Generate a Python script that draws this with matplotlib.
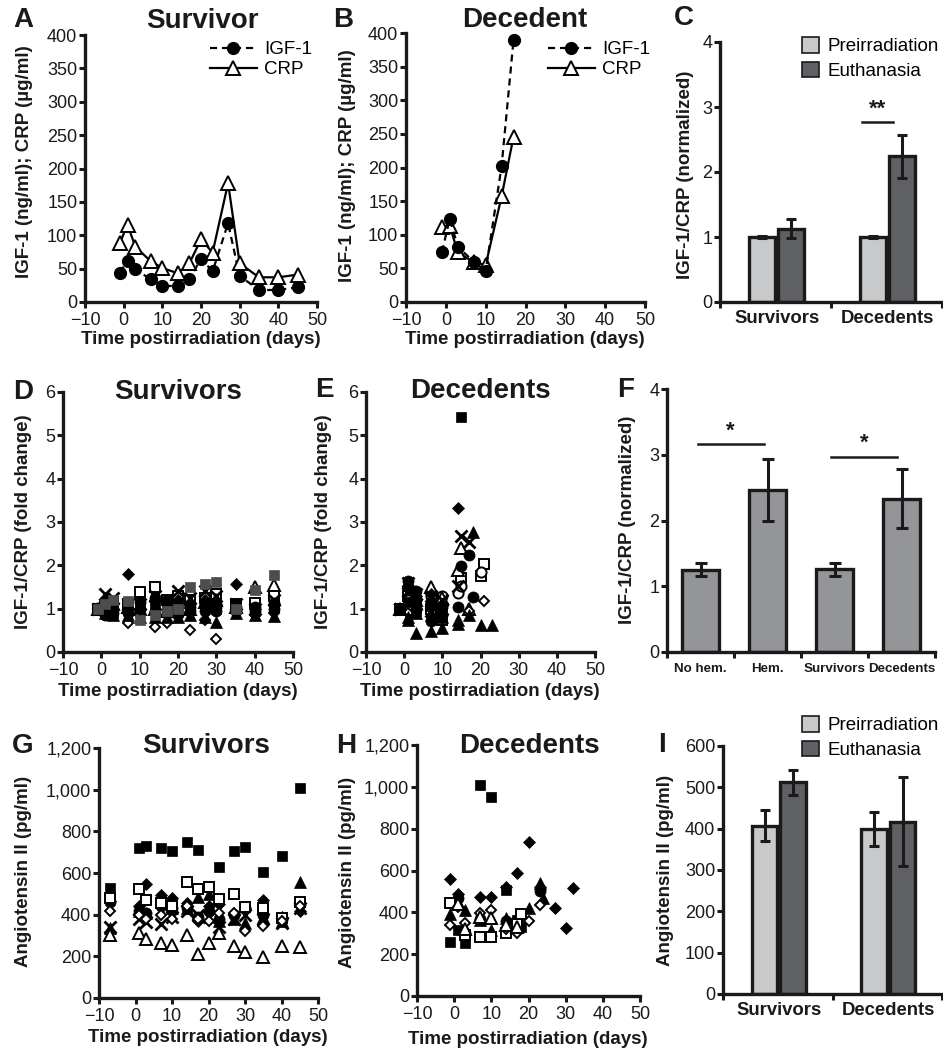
import matplotlib
matplotlib.use("Agg")
import matplotlib.pyplot as plt
from matplotlib.ticker import FuncFormatter
from matplotlib.patches import Patch
import numpy as np

plt.rcParams['font.family'] = ['Liberation Sans', 'DejaVu Sans']
plt.rcParams['axes.unicode_minus'] = True

W, H = 943, 1054
fig = plt.figure(figsize=(W / 100, H / 100), dpi=100)
nan = np.nan

# ---------------- data ----------------
# Panel A: survivor
a_days = [-1, 1, 3, 7, 10, 14, 17, 20, 23, 27, 30, 35, 40, 45]
a_igf1 = [44, 62, 49, 34, 24, 24, 34, 65, 46, 118, 39, 18, 18, 22]
a_crp = [88, 116, 83, 61, 51, 43, 58, 94, 74, 178, 58, 37, 37, 41]
# Panel B: decedent
b_days = [-1, 1, 3, 7, 10, 14, 17]
b_igf1 = [74, 124, 82, 60, 46, 202, 390]
b_crp = [112, 113, 74, 59, 55, 157, 246]
# Panel C
c_groups = ['Survivors', 'Decedents']
c_pre = [1.0, 1.0]
c_pre_err = [0.01, 0.01]
c_euth = [1.13, 2.24]
c_euth_err = [0.14, 0.33]
# Panel D: survivors fold change
d_days = [-1, 1, 3, 7, 10, 14, 17, 20, 23, 27, 30, 35, 40, 45]
d_sq = [1.0, 0.95, 0.9, 1.0, 1.05, 1.1, 1.0, 0.95, 1.0, 1.05, 1.0, 1.1, 0.95, 1.05]
d_sqg = [1.0, 1.1, 1.2, 1.18, 0.75, 0.85, 0.95, 1.0, 1.5, 1.57, 1.62, 1.0, 1.43, 1.78]
d_ci = [1.0, 0.85, 1.0, 1.0, 1.15, 1.25, 1.1, 0.9, 1.05, 0.95, 0.95, 1.05, 0.95, 1.0]
d_ci2 = [1.0, 1.1, 0.9, 0.9, 1.0, 0.95, 1.2, 1.1, 0.95, 1.1, 1.05, 0.95, 1.05, 1.12]
d_di = [1.0, 1.2, 1.1, 1.8, 1.0, 1.2, 1.1, 1.2, 1.1, 1.2, 1.1, 1.58, 1.0, 1.1]
d_tr = [1.0, 0.9, 0.85, 0.85, 0.8, 0.8, 0.8, 0.8, 0.85, 0.8, 0.7, 0.9, 0.85, 0.82]
d_x = [1.0, 1.35, 1.25, 1.1, 1.1, 1.3, 1.1, 1.4, 1.25, 1.4, 1.3, 1.1, 1.0, 1.2]
d_sqo = [1.0, 1.05, 1.15, 1.1, 1.38, 1.5, 1.2, 1.3, 1.2, 1.25, 1.35, 1.1, 1.13, 1.3]
d_tro = [1.0, 1.0, 1.1, 1.05, 1.0, 1.0, 0.95, 1.15, 1.0, 1.15, 1.2, 1.05, 1.5, 1.55]
d_dio = [1.0, 0.9, 0.95, 0.68, 0.85, 0.57, 0.68, 0.8, 0.5, 0.75, 0.3, 0.9, 0.85, 0.9]
# Panel E: decedents fold change (each animal has its own days)
e_sq_days = [-1, 1, 3, 7, 10, 15]
e_sq = [1.0, 1.15, 0.95, 1.1, 0.95, 5.42]
e_di_days = [-1, 1, 3, 7, 10, 14]
e_di = [1.0, 1.45, 1.3, 1.35, 1.1, 3.32]
e_ci_days = [-1, 1, 3, 7, 10, 15, 18]
e_ci = [1.0, 1.65, 1.4, 0.72, 1.05, 1.98, 1.28]
e_ci2_days = [-1, 1, 3, 7, 10, 14, 17]
e_ci2 = [1.0, 1.5, 1.2, 1.1, 0.85, 1.05, 2.25]
e_tr_days = [-1, 1, 3, 7, 10, 14, 18]
e_tr = [1.0, 0.75, 0.45, 0.48, 0.55, 0.65, 2.76]
e_tr2_days = [-1, 1, 3, 7, 10, 14, 17, 20, 23]
e_tr2 = [1.0, 0.8, 0.9, 0.85, 0.8, 0.75, 0.85, 0.62, 0.62]
e_x_days = [-1, 1, 3, 7, 10, 14, 15]
e_x = [1.0, 1.6, 1.35, 0.95, 1.0, 1.52, 2.67]
e_x2_days = [-1, 1, 3, 7, 10, 17]
e_x2 = [1.0, 1.4, 1.1, 1.3, 1.2, 2.55]
e_tro_days = [-1, 1, 3, 7, 10, 14, 15, 17]
e_tro = [1.0, 1.1, 1.2, 1.5, 1.25, 1.9, 2.4, 1.0]
e_sqo_days = [-1, 1, 3, 7, 10, 15, 20, 21]
e_sqo = [1.0, 1.3, 1.1, 1.0, 0.75, 1.7, 1.75, 2.04]
e_cio_days = [-1, 1, 3, 7, 10, 14, 15, 20]
e_cio = [1.0, 1.2, 1.0, 1.3, 1.3, 1.36, 1.52, 1.85]
e_dio_days = [-1, 1, 3, 7, 10, 17, 21]
e_dio = [1.0, 0.9, 1.1, 1.0, 0.9, 0.95, 1.17]
# Panel F
f_labels = ['No hem.', 'Hem.', 'Survivors', 'Decedents']
f_vals = [1.25, 2.47, 1.26, 2.33]
f_err = [0.10, 0.47, 0.10, 0.45]
# Panel G: survivors angiotensin II
g_days = [-7, 1, 3, 7, 10, 14, 17, 20, 23, 27, 30, 35, 40, 45]
g_sq = [530, 718, 730, 718, 706, 749, 710, nan, 627, 704, 723, 606, 682, 1010]
g_di = [465, 440, 547, 495, 480, 455, 370, 440, 450, 400, 430, 470, 390, 420]
g_tr = [335, 420, 410, 470, 430, 430, 485, 500, 370, 380, 360, 390, 370, 555]
g_ci = [460, 420, 410, 440, 430, 430, 390, 420, 380, 400, 430, 400, 380, 450]
g_x = [340, 380, 365, 355, 390, 420, 400, 390, 340, 380, 400, 380, 360, 430]
g_sqo = [478, 523, 470, 455, 440, 558, 522, 534, 474, 498, 435, 432, 385, 460]
g_dio = [420, 400, 380, 400, 380, 440, 380, 370, 410, 410, 320, 345, 370, 440]
g_tro = [302, 313, 282, 265, 254, 302, 210, 262, 310, 250, 222, 195, 250, 246]
# Panel H: decedents angiotensin II
h_sq_days = [-1, 1, 3, 7, 10, 14, 17, 18]
h_sq = [260, 316, 255, 1009, 953, 507, 363, 330]
h_di_days = [-1, 1, 7, 10, 14, 17, 20, 23, 27, 30, 32]
h_di = [559, 488, 475, 472, 522, 586, 735, 522, 419, 327, 518]
h_tr_days = [-1, 1, 3, 7, 10, 14, 17, 20, 23, 24]
h_tr = [392, 451, 410, 363, 315, 373, 350, 420, 540, 468]
h_ci_days = [1, 3, 7, 14, 17, 23]
h_ci = [470, 300, 370, 360, 365, 500]
h_sqo_days = [-1, 3, 7, 10, 14, 17, 18]
h_sqo = [444, 292, 282, 283, 301, 345, 392]
h_dio_days = [-1, 1, 3, 7, 10, 14, 17, 20, 23]
h_dio = [339, 427, 350, 395, 411, 319, 300, 358, 435]
h_tro_days = [1, 3, 7, 10, 14, 17]
h_tro = [440, 320, 380, 371, 340, 330]
# Panel I
i_groups = ['Survivors', 'Decedents']
i_pre = [407, 399]
i_pre_err = [37, 42]
i_euth = [512, 417]
i_euth_err = [30, 108]

LIGHT = '#c8c9cb'
DARK = '#5f6063'
MID = '#939598'
INK = '#1a1a1a'

# ---------------- helpers ----------------
def add_ax(l, r, t, b):
    ax = fig.add_axes([l / W, 1 - b / H, (r - l) / W, (b - t) / H])
    for s in ['top', 'right']:
        ax.spines[s].set_visible(False)
    for s in ['left', 'bottom']:
        ax.spines[s].set_linewidth(2.4)
        ax.spines[s].set_capstyle('projecting')
        ax.spines[s].set_color(INK)
    ax.tick_params(which='major', width=2.2, length=4, labelsize=13,
                   direction='out', color=INK, labelcolor=INK)
    ax.tick_params(axis='y', which='major', pad=1.5)
    ax.tick_params(axis='x', which='major', pad=3)
    ax.set_facecolor('none')
    return ax


def ftext(x, y, s, **kw):
    kw.setdefault('ha', 'center')
    kw.setdefault('va', 'center')
    kw.setdefault('color', INK)
    fig.text(x / W, 1 - y / H, s, **kw)


def letter(x, y, s):
    ftext(x, y, s, fontsize=20, fontweight='bold', va='baseline')


def title(x, y, s):
    ftext(x, y, s, fontsize=20, fontweight='bold', va='baseline')


def ylab(x, y, s, fs=13.5):
    ftext(x, y, s, fontsize=fs, fontweight='bold', rotation=90)


def xlab(x, y, s, fs=13.5):
    ftext(x, y, s, fontsize=fs, fontweight='bold')


STY = {
    'sq': dict(marker='s', ms=7.3, mfc='k', mec='k', mew=0.5),
    'sqg': dict(marker='s', ms=7.3, mfc='#4d4d4d', mec='#4d4d4d', mew=0.5),
    'sqo': dict(marker='s', ms=6.8, mfc='w', mec='k', mew=1.4),
    'di': dict(marker='D', ms=6.0, mfc='k', mec='k', mew=0.5),
    'dio': dict(marker='D', ms=5.5, mfc='w', mec='k', mew=1.4),
    'ci': dict(marker='o', ms=8.0, mfc='k', mec='k', mew=0.5),
    'cio': dict(marker='o', ms=7.3, mfc='w', mec='k', mew=1.4),
    'tr': dict(marker='^', ms=8.5, mfc='k', mec='k', mew=0.5),
    'tro': dict(marker='^', ms=8.5, mfc='w', mec='k', mew=1.4),
    'x': dict(marker='x', ms=8.0, mec='k', mew=2.0),
}


def pts(ax, x, y, key):
    ax.plot(x, y, ls='none', clip_on=False, **STY[key])


def time_axis(ax):
    ax.set_xlim(-10, 50)
    ax.set_xticks(range(-10, 51, 10))


# ---------------- Panel A ----------------
axA = add_ax(85, 317, 35, 302)
time_axis(axA)
axA.set_ylim(0, 400)
axA.set_yticks(range(0, 401, 50))
axA.plot(a_days, a_igf1, color='k', lw=1.6, ls=(0, (3.2, 2.2)), marker='o', ms=8.5,
         mfc='k', mec='k', label='IGF-1', clip_on=False)
axA.plot(a_days, a_crp, color='k', lw=1.6, ls='-', marker='^', ms=9.5, mfc='w',
         mec='k', mew=1.4, label='CRP', clip_on=False)
axA.legend(loc='upper left', bbox_to_anchor=(210 / W, 1 - 41 / H),
           bbox_transform=fig.transFigure, frameon=False, borderpad=0,
           borderaxespad=0, handlelength=2.5, handletextpad=0.4,
           labelspacing=0.15, fontsize=13.5)
letter(23, 27, 'A')
title(202, 28, 'Survivor')
ylab(25, 162, 'IGF-1 (ng/ml); CRP (\u00b5g/ml)')
xlab(201, 340, 'Time postirradiation (days)')

# ---------------- Panel B ----------------
axB = add_ax(406, 645, 33, 302)
time_axis(axB)
axB.set_ylim(0, 400)
axB.set_yticks(range(0, 401, 50))
axB.plot(b_days, b_igf1, color='k', lw=1.6, ls=(0, (3.2, 2.2)), marker='o', ms=8.5,
         mfc='k', mec='k', label='IGF-1', clip_on=False, zorder=3)
axB.plot(b_days, b_crp, color='k', lw=1.6, ls='-', marker='^', ms=9.5, mfc='w',
         mec='k', mew=1.4, label='CRP', clip_on=False, zorder=2)
axB.legend(loc='upper left', bbox_to_anchor=(548 / W, 1 - 41 / H),
           bbox_transform=fig.transFigure, frameon=False, borderpad=0,
           borderaxespad=0, handlelength=2.5, handletextpad=0.4,
           labelspacing=0.15, fontsize=13.5)
letter(343, 27, 'B')
title(525, 27, 'Decedent')
ylab(347, 166, 'IGF-1 (ng/ml); CRP (\u00b5g/ml)')
xlab(525, 340, 'Time postirradiation (days)')


# ---------------- bar helper ----------------
def group_bars(ax, pre, pre_err, euth, euth_err, groups):
    centers = np.arange(len(groups)) + 0.51
    off = 0.13
    w = 0.235
    ax.bar(centers - off, pre, w, color=LIGHT, edgecolor=INK, linewidth=2.4, zorder=2)
    ax.bar(centers + off, euth, w, color=DARK, edgecolor=INK, linewidth=2.4, zorder=2)
    ax.errorbar(centers - off, pre, yerr=pre_err, fmt='none', ecolor=INK,
                elinewidth=2.2, capsize=3.6, capthick=2.2, zorder=3)
    ax.errorbar(centers + off, euth, yerr=euth_err, fmt='none', ecolor=INK,
                elinewidth=2.2, capsize=3.6, capthick=2.2, zorder=3)
    ax.set_xlim(0, len(groups))
    ax.set_xticks(range(len(groups) + 1))
    ax.set_xticklabels([''] * (len(groups) + 1))
    ax.set_xticks(centers, minor=True)
    ax.set_xticklabels(groups, minor=True, fontsize=13.3, fontweight='bold')
    ax.tick_params(axis='x', which='minor', length=0, pad=6, labelcolor=INK)


def patch_legend(ax, x, y):
    handles = [Patch(facecolor=LIGHT, edgecolor=INK, linewidth=1.2, label='Preirradiation'),
               Patch(facecolor=DARK, edgecolor=INK, linewidth=1.2, label='Euthanasia')]
    ax.legend(handles=handles, loc='upper left', bbox_to_anchor=(x / W, 1 - y / H),
              bbox_transform=fig.transFigure, frameon=False, borderpad=0,
              borderaxespad=0, handlelength=0.9, handleheight=0.9,
              handletextpad=0.45, labelspacing=0.35, fontsize=13.5)


# ---------------- Panel C ----------------
axC = add_ax(720, 942, 42, 302)
axC.set_ylim(0, 4)
axC.set_yticks(range(0, 5))
group_bars(axC, c_pre, c_pre_err, c_euth, c_euth_err, c_groups)
axC.plot([1.28, 1.56], [2.77, 2.77], color=INK, lw=1.8)
axC.text(1.42, 2.8, '**', ha='center', va='bottom', fontsize=16, fontweight='bold',
         color=INK)
patch_legend(axC, 802, 37)
letter(684, 25, 'C')
ylab(685, 175, 'IGF-1/CRP (normalized)')

# ---------------- Panel D ----------------
axD = add_ax(63, 293, 392, 652)
time_axis(axD)
axD.set_ylim(0, 6)
axD.set_yticks(range(0, 7))
pts(axD, d_days, d_sqo, 'sqo')
pts(axD, d_days, d_tro, 'tro')
pts(axD, d_days, d_dio, 'dio')
pts(axD, d_days, d_sq, 'sq')
pts(axD, d_days, d_ci, 'ci')
pts(axD, d_days, d_ci2, 'ci')
pts(axD, d_days, d_di, 'di')
pts(axD, d_days, d_tr, 'tr')
pts(axD, d_days, d_x, 'x')
pts(axD, d_days, d_sqg, 'sqg')
letter(23, 399, 'D')
title(178, 399, 'Survivors')
ylab(24, 522, 'IGF-1/CRP (fold change)')
xlab(178, 692, 'Time postirradiation (days)')

# ---------------- Panel E ----------------
axE = add_ax(366, 595, 392, 652)
time_axis(axE)
axE.set_ylim(0, 6)
axE.set_yticks(range(0, 7))
pts(axE, e_sqo_days, e_sqo, 'sqo')
pts(axE, e_cio_days, e_cio, 'cio')
pts(axE, e_tro_days, e_tro, 'tro')
pts(axE, e_dio_days, e_dio, 'dio')
pts(axE, e_sq_days, e_sq, 'sq')
pts(axE, e_ci_days, e_ci, 'ci')
pts(axE, e_ci2_days, e_ci2, 'ci')
pts(axE, e_di_days, e_di, 'di')
pts(axE, e_tr_days, e_tr, 'tr')
pts(axE, e_tr2_days, e_tr2, 'tr')
pts(axE, e_x_days, e_x, 'x')
pts(axE, e_x2_days, e_x2, 'x')
letter(324, 397, 'E')
title(480, 398, 'Decedents')
ylab(324, 522, 'IGF-1/CRP (fold change)')
xlab(480, 692, 'Time postirradiation (days)')

# ---------------- Panel F ----------------
axF = add_ax(667, 935, 389, 652)
axF.set_ylim(0, 4)
axF.set_yticks(range(0, 5))
fc = np.arange(len(f_labels)) + 0.5
axF.bar(fc, f_vals, 0.55, color=MID, edgecolor=INK, linewidth=2.4, zorder=2)
axF.errorbar(fc, f_vals, yerr=f_err, fmt='none', ecolor=INK, elinewidth=2.2,
             capsize=4.3, capthick=2.2, zorder=3)
axF.set_xlim(0, len(f_labels))
axF.set_xticks(range(len(f_labels) + 1))
axF.set_xticklabels([''] * (len(f_labels) + 1))
axF.set_xticks(fc, minor=True)
axF.set_xticklabels(f_labels, minor=True, fontsize=9.6, fontweight='bold')
axF.tick_params(axis='x', which='minor', length=0, pad=8, labelcolor=INK)
axF.plot([0.46, 1.45], [3.16, 3.16], color=INK, lw=1.8)
axF.text(0.95, 3.2, '*', ha='center', va='bottom', fontsize=16, fontweight='bold',
         color=INK)
axF.plot([2.45, 3.43], [2.97, 2.97], color=INK, lw=1.8)
axF.text(2.94, 3.01, '*', ha='center', va='bottom', fontsize=16, fontweight='bold',
         color=INK)
letter(626, 397, 'F')
ylab(627, 520, 'IGF-1/CRP (normalized)')

# ---------------- Panel G ----------------
comma = FuncFormatter(lambda v, p: f'{int(v):,}')
axG = add_ax(99, 318, 748, 998)
time_axis(axG)
axG.set_ylim(0, 1200)
axG.set_yticks(range(0, 1201, 200))
axG.yaxis.set_major_formatter(comma)
pts(axG, g_days, g_sq, 'sq')
pts(axG, g_days, g_ci, 'ci')
pts(axG, g_days, g_di, 'di')
pts(axG, g_days, g_tr, 'tr')
pts(axG, g_days, g_x, 'x')
pts(axG, g_days, g_sqo, 'sqo')
pts(axG, g_days, g_dio, 'dio')
pts(axG, g_days, g_tro, 'tro')
letter(23, 753, 'G')
title(206, 753, 'Survivors')
ylab(24, 871, 'Angiotensin II (pg/ml)')
xlab(208, 1037, 'Time postirradiation (days)')

# ---------------- Panel H ----------------
axH = add_ax(417, 640, 745, 996)
time_axis(axH)
axH.set_ylim(0, 1200)
axH.set_yticks(range(0, 1201, 200))
axH.yaxis.set_major_formatter(comma)
pts(axH, h_sq_days, h_sq, 'sq')
pts(axH, h_ci_days, h_ci, 'ci')
pts(axH, h_di_days, h_di, 'di')
pts(axH, h_tr_days, h_tr, 'tr')
pts(axH, h_sqo_days, h_sqo, 'sqo')
pts(axH, h_dio_days, h_dio, 'dio')
pts(axH, h_tro_days, h_tro, 'tro')
letter(346, 753, 'H')
title(529, 753, 'Decedents')
ylab(348, 872, 'Angiotensin II (pg/ml)')
xlab(528, 1040, 'Time postirradiation (days)')

# ---------------- Panel I ----------------
axI = add_ax(723, 942, 746, 994)
axI.set_ylim(0, 600)
axI.set_yticks(range(0, 601, 100))
group_bars(axI, i_pre, i_pre_err, i_euth, i_euth_err, i_groups)
patch_legend(axI, 802, 716)
letter(662, 752, 'I')
ylab(665, 870, 'Angiotensin II (pg/ml)')

fig.savefig('out.png', dpi=100)
